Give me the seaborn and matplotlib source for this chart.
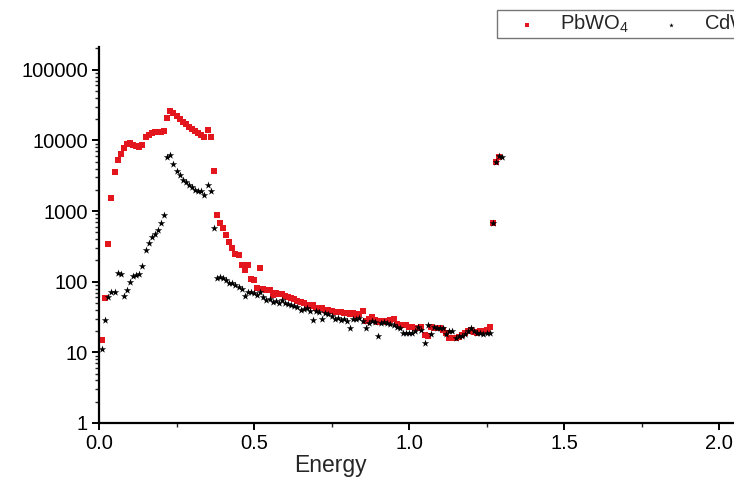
import numpy as np
import pandas as pd
import matplotlib
matplotlib.use("Agg")
import matplotlib.pyplot as plt
import matplotlib.ticker as mticker
import seaborn as sns

energy = [0.01, 0.02, 0.03, 0.04, 0.05, 0.06, 0.07, 0.08, 0.09, 0.10,
          0.11, 0.12, 0.13, 0.14, 0.15, 0.16, 0.17, 0.18, 0.19, 0.20,
          0.21, 0.22, 0.23, 0.24, 0.25, 0.26, 0.27, 0.28, 0.29, 0.30,
          0.31, 0.32, 0.33, 0.34, 0.35, 0.36, 0.37, 0.38, 0.39, 0.40,
          0.41, 0.42, 0.43, 0.44, 0.45, 0.46, 0.47, 0.48, 0.49, 0.50,
          0.51, 0.52, 0.53, 0.54, 0.55, 0.56, 0.57, 0.58, 0.59, 0.60,
          0.61, 0.62, 0.63, 0.64, 0.65, 0.66, 0.67, 0.68, 0.69, 0.70,
          0.71, 0.72, 0.73, 0.74, 0.75, 0.76, 0.77, 0.78, 0.79, 0.80,
          0.81, 0.82, 0.83, 0.84, 0.85, 0.86, 0.87, 0.88, 0.89, 0.90,
          0.91, 0.92, 0.93, 0.94, 0.95, 0.96, 0.97, 0.98, 0.99, 1.00,
          1.01, 1.02, 1.03, 1.04, 1.05, 1.06, 1.07, 1.08, 1.09, 1.10,
          1.11, 1.12, 1.13, 1.14, 1.15, 1.16, 1.17, 1.18, 1.19, 1.20,
          1.21, 1.22, 1.23, 1.24, 1.25, 1.26, 1.27, 1.28, 1.29, 1.30]

pbwo4 = [15, 59, 340, 1550, 3550, 5200, 6450, 7800, 8900, 9150,
         8700, 8200, 8000, 8500, 11000, 12100, 12800, 13100, 13100, 13100,
         13400, 21000, 26500, 24400, 22000, 20000, 18400, 17000, 15700, 14600,
         13600, 12700, 11900, 11100, 14100, 11000, 3670, 870, 670, 585,
         460, 370, 297, 246, 237, 173, 147, 170, 110, 105,
         81, 154, 78, 76, 76, 64, 69, 66, 66, 62,
         60, 58, 56, 54, 52, 50, 47, 45, 47, 42,
         42, 43, 40, 40, 38, 37, 37, 37, 36, 36,
         35, 36, 34, 35, 38, 28, 30, 32, 29, 27,
         28, 28, 27, 29, 30, 25, 24, 24, 24, 23,
         23, 22, 22, 23, 17.6, 17, 23, 22, 22, 22,
         21, 19, 15.8, 16, 16, 16.5, 17.5, 19, 20, 21,
         19.5, 19, 20, 20, 21, 23, 670, 4900, 5800]

cdwo4 = [11, 29, 61, 71, 72, 134, 130, 63, 76, 100,
         121, 124, 127, 167, 282, 356, 435, 470, 540, 675,
         870, 5800, 6300, 4600, 3670, 3200, 2760, 2580, 2360, 2170,
         1960, 1950, 1900, 1690, 2340, 1920, 580, 114, 118, 114,
         106, 95, 97, 90, 85, 80, 63, 72, 72, 70,
         65, 72, 60, 55, 57, 52, 53, 50, 55, 50,
         48, 47, 45, 44, 40, 41, 42, 38, 29, 38,
         37, 30, 36, 35, 33, 30, 31, 29, 30, 28,
         22.4, 30, 30, 31, 28, 22, 26, 28, 27, 17,
         26, 27, 26, 25, 24, 23, 22, 18.6, 19, 18.6,
         19, 20, 23, 21, 13.5, 24, 18, 23, 22, 22,
         22, 18, 20, 20, 16, 17, 17, 18, 20, 22,
         20, 19, 19, 18, 19, 18.6, 670, 5000, 6000, 5800]

series_names = ["PbWO$_4$", "CdWO$_4$"]
x_ticks = [0.0, 0.5, 1.0, 1.5, 2.0]
x_tick_labels = ["0.0", "0.5", "1.0", "1.5", "2.0"]
y_ticks = [1, 10, 100, 1000, 10000, 100000]
y_tick_labels = ["1", "10", "100", "1000", "10000", "100000"]

df_pb = pd.DataFrame({"Energy": energy[:len(pbwo4)], "Counts": pbwo4})
df_cd = pd.DataFrame({"Energy": energy[:len(cdwo4)], "Counts": cdwo4})

sns.set_style("white")
plt.rcParams["font.family"] = ["Liberation Sans", "DejaVu Sans"]
plt.rcParams["mathtext.fontset"] = "custom"
plt.rcParams["mathtext.rm"] = "Liberation Sans"
plt.rcParams["mathtext.it"] = "Liberation Sans"

fig = plt.figure(figsize=(7.34, 4.80), dpi=100)
ax = fig.add_axes([99 / 734, 57 / 480, 651 / 734, 376 / 480])

sns.scatterplot(data=df_pb, x="Energy", y="Counts", ax=ax, color="#e3161e",
                marker="s", s=15, linewidth=0, label=series_names[0])
sns.scatterplot(data=df_cd, x="Energy", y="Counts", ax=ax, color="black",
                marker="*", s=32, linewidth=0, label=series_names[1])

ax.set_yscale("log")
ax.set_xlim(0, 2.1)
ax.set_ylim(1, 2.1e5)
ax.set_xticks(x_ticks)
ax.set_xticklabels(x_tick_labels)
ax.xaxis.set_minor_locator(mticker.FixedLocator([0.25, 0.75, 1.25, 1.75]))
ax.set_yticks(y_ticks)
ax.set_yticklabels(y_tick_labels)
ax.yaxis.set_minor_locator(mticker.LogLocator(base=10, subs=np.arange(2, 10)))
ax.yaxis.set_minor_formatter(mticker.NullFormatter())

for side in ["top", "right"]:
    ax.spines[side].set_visible(False)
for side in ["left", "bottom"]:
    ax.spines[side].set_linewidth(1.6)
    ax.spines[side].set_color("black")

ax.tick_params(axis="both", which="major", direction="out", length=5, width=1.4,
               labelsize=14.5, pad=3, colors="black", left=True, bottom=True)
ax.tick_params(axis="both", which="minor", direction="out", length=3, width=1.0,
               left=True, bottom=True)
ax.set_xlabel("Energy", fontsize=16.5)
ax.xaxis.set_label_coords((330 - 99) / 651, -31 / 376)
ax.set_ylabel("")

leg = ax.legend(loc="upper left", bbox_to_anchor=(497 / 734, 1 - 10 / 480),
                bbox_transform=fig.transFigure, ncol=2, frameon=True,
                fancybox=False, fontsize=14.5, markerscale=0.6,
                handletextpad=0.3, columnspacing=0.7, borderpad=0.15,
                handlelength=2.7, borderaxespad=0)
leg.get_frame().set_edgecolor("#555555")
leg.get_frame().set_linewidth(1.0)

fig.savefig("out.png", dpi=100)
